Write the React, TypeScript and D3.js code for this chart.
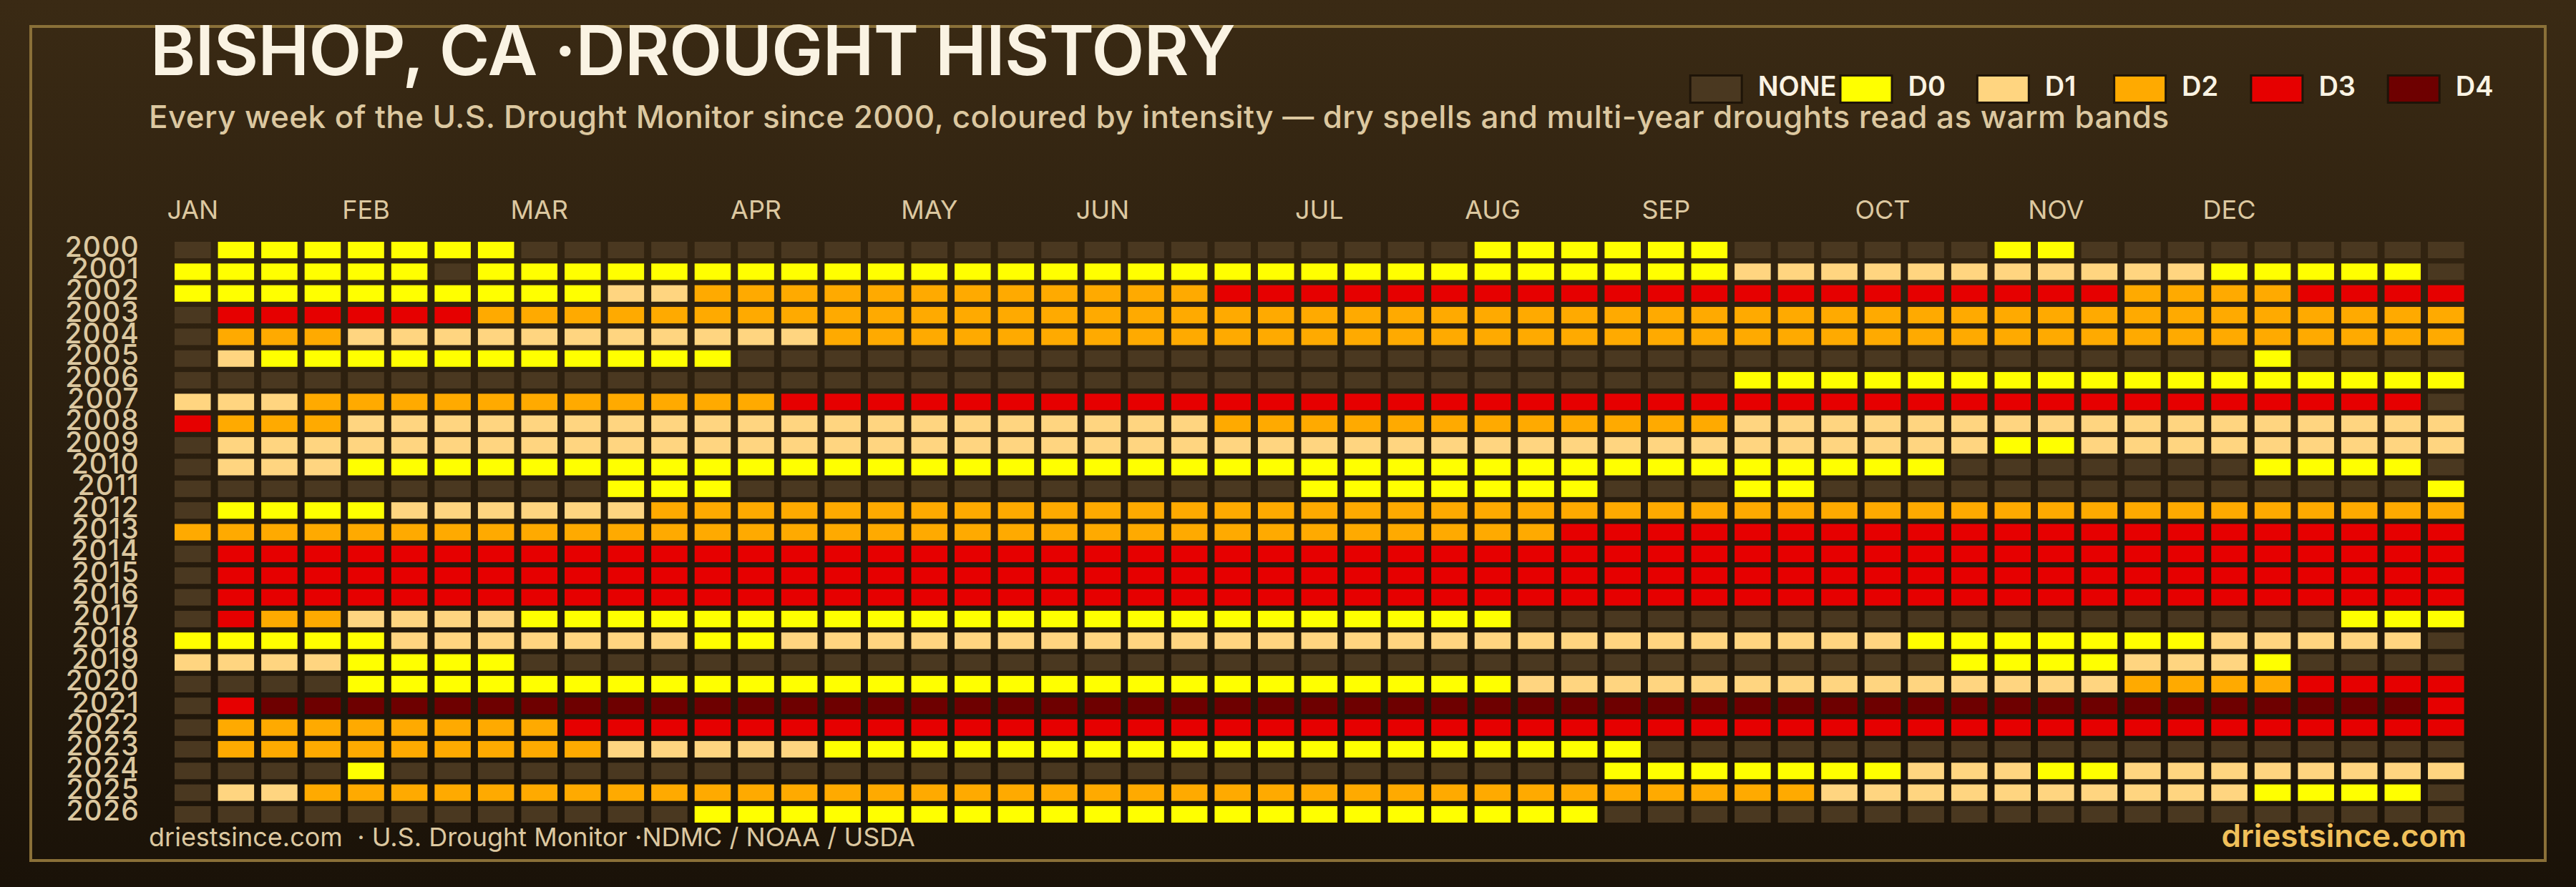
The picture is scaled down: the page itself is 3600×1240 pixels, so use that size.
import React, { useRef, useEffect } from 'react';
import * as d3 from 'd3';

const years = d3.range(2000, 2027);
const monthLabels = ['JAN', 'FEB', 'MAR', 'APR', 'MAY', 'JUN', 'JUL', 'AUG', 'SEP', 'OCT', 'NOV', 'DEC'];
const monthStartWeeks = [0, 4, 8, 13, 17, 21, 26, 30, 34, 39, 43, 47];
const levelKeys = ['n', '0', '1', '2', '3', '4'];
const levelLabels = ['NONE', 'D0', 'D1', 'D2', 'D3', 'D4'];
const levelColors = ['#4a3820', '#ffff00', '#ffd580', '#ffaa00', '#e60000', '#6e0000'];

// one line per year, level:weeks runs, 53 weeks each
const weekRuns = [
  'n:1 0:7 n:22 0:6 n:6 0:2 n:9',
  '0:6 n:1 0:29 1:11 0:5 n:1',
  '0:10 1:2 2:12 3:21 2:4 3:4',
  'n:1 3:6 2:46',
  'n:1 2:3 1:11 2:38',
  'n:1 1:1 0:11 n:35 0:1 n:4',
  'n:36 0:17',
  '1:3 2:11 3:38 n:1',
  '3:1 2:3 1:20 2:12 1:17',
  'n:1 1:41 0:2 1:9',
  'n:1 1:3 0:37 n:7 0:4 n:1',
  'n:10 0:3 n:13 0:7 n:3 0:2 n:14 0:1',
  'n:1 0:4 1:6 2:42',
  '2:32 3:21',
  'n:1 3:52',
  'n:1 3:52',
  'n:1 3:52',
  'n:1 3:1 2:2 1:4 0:23 n:19 0:3',
  '0:5 1:7 0:2 1:26 0:7 1:5 n:1',
  '1:4 0:4 n:33 0:4 1:3 0:1 n:4',
  'n:4 0:27 1:14 2:4 3:4',
  'n:1 3:1 4:50 3:1',
  'n:1 2:8 3:44',
  'n:1 2:9 1:5 0:19 n:19',
  'n:4 0:1 n:28 0:7 1:3 0:2 1:8',
  'n:1 1:2 2:35 1:10 0:4 n:1',
  'n:12 0:21 n:20'
];

const title = 'BISHOP, CA ·DROUGHT HISTORY';
const subtitle = 'Every week of the U.S. Drought Monitor since 2000, coloured by intensity — dry spells and multi-year droughts read as warm bands';
const sourceNote = 'driestsince.com  · U.S. Drought Monitor ·NDMC / NOAA / USDA';
const siteName = 'driestsince.com';

const WIDTH = 3600;
const HEIGHT = 1240;
const FONT = 'Inter, sans-serif';

const expandRuns = (runs: string) =>
  runs.split(' ').flatMap(run => {
    const [level, count] = run.split(':');
    return d3.range(+count).map(() => level);
  });

const App: React.FC = () => {
  const ref = useRef<SVGSVGElement | null>(null);

  useEffect(() => {
    if (!ref.current) return;

    const svg = d3.select(ref.current);
    svg.selectAll('*').remove();

    const grad = svg
      .append('defs')
      .append('linearGradient')
      .attr('id', 'bg')
      .attr('x1', 0)
      .attr('y1', 0)
      .attr('x2', 0)
      .attr('y2', 1);
    grad.append('stop').attr('offset', 0).attr('stop-color', '#3a2a14');
    grad.append('stop').attr('offset', 1).attr('stop-color', '#1a1208');

    svg.append('rect').attr('width', WIDTH).attr('height', HEIGHT).attr('fill', 'url(#bg)');

    svg
      .append('rect')
      .attr('x', 43)
      .attr('y', 37)
      .attr('width', 3514)
      .attr('height', 1166)
      .attr('fill', 'none')
      .attr('stroke', '#8a7038')
      .attr('stroke-width', 4);

    const weeks = d3.range(53);
    const x = d3.scaleBand<number>().domain(weeks).range([244, 3443.6]).paddingInner(0.165);
    const y = d3.scaleBand<number>().domain(years).range([338, 1150]).paddingInner(0.24);
    const color = d3.scaleOrdinal<string, string>().domain(levelKeys).range(levelColors);

    const cells = years.flatMap((year, i) =>
      expandRuns(weekRuns[i]).map((level, week) => ({ year, week, level }))
    );

    svg
      .append('g')
      .selectAll('rect')
      .data(cells)
      .join('rect')
      .attr('x', d => x(d.week)!)
      .attr('y', d => y(d.year)!)
      .attr('width', x.bandwidth())
      .attr('height', y.bandwidth())
      .attr('fill', d => color(d.level));

    const monthAxis = svg
      .append('g')
      .attr('transform', 'translate(0,306)')
      .call(
        d3
          .axisTop(x)
          .tickValues(monthStartWeeks)
          .tickSize(0)
          .tickPadding(0)
          .tickFormat((_, i) => monthLabels[i])
      );
    monthAxis.select('.domain').remove();
    monthAxis
      .selectAll('text')
      .attr('font-family', FONT)
      .attr('font-size', 36)
      .attr('fill', '#dcc8a0');

    const yearAxis = svg
      .append('g')
      .attr('transform', 'translate(195,0)')
      .call(d3.axisLeft(y).tickSize(0).tickPadding(0).tickFormat(d => String(d)));
    yearAxis.select('.domain').remove();
    yearAxis
      .selectAll('text')
      .attr('dy', 9)
      .attr('font-family', FONT)
      .attr('font-size', 39)
      .attr('font-weight', 500)
      .attr('letter-spacing', 1.2)
      .attr('fill', '#dcc8a0');

    // legend: NONE sits a bit further out than the evenly spaced D levels
    const legendX = d3.scalePoint<string>().domain(levelLabels.slice(1)).range([2570.5, 3335.7]);
    const legend = svg
      .append('g')
      .selectAll('g')
      .data(levelLabels)
      .join('g')
      .attr('transform', d => `translate(${d === 'NONE' ? 2360.7 : legendX(d)},0)`);
    legend
      .append('rect')
      .attr('x', 1.5)
      .attr('y', 105.5)
      .attr('width', 72)
      .attr('height', 38)
      .attr('fill', (_, i) => levelColors[i])
      .attr('stroke', '#1e1408')
      .attr('stroke-width', 3);
    legend
      .append('text')
      .attr('x', 96)
      .attr('y', 134)
      .attr('font-family', FONT)
      .attr('font-size', 38)
      .attr('font-weight', 600)
      .attr('fill', '#faf3e3')
      .text(d => d);

    const addText = (
      text: string,
      px: number,
      py: number,
      size: number,
      weight: number,
      fill: string,
      spacing = 0,
      anchor = 'start'
    ) =>
      svg
        .append('text')
        .attr('x', px)
        .attr('y', py)
        .attr('font-family', FONT)
        .attr('font-size', size)
        .attr('font-weight', weight)
        .attr('letter-spacing', spacing)
        .attr('fill', fill)
        .attr('text-anchor', anchor)
        .style('white-space', 'pre')
        .text(text);

    addText(title, 210, 105, 96, 600, '#faf3e3', -0.6);
    addText(subtitle, 208, 179, 44, 500, '#dcc8a0', 0.4);
    addText(sourceNote, 208, 1183, 36, 400, '#dcc8a0');
    addText(siteName, 3447, 1184, 44, 600, '#f0c05a', 0, 'end');
  }, []);

  return (
    <svg
      ref={ref}
      width={WIDTH}
      height={HEIGHT}
      viewBox={`0 0 ${WIDTH} ${HEIGHT}`}
      style={{ position: 'absolute', left: 0, top: 0 }}
    />
  );
};

export default App;
